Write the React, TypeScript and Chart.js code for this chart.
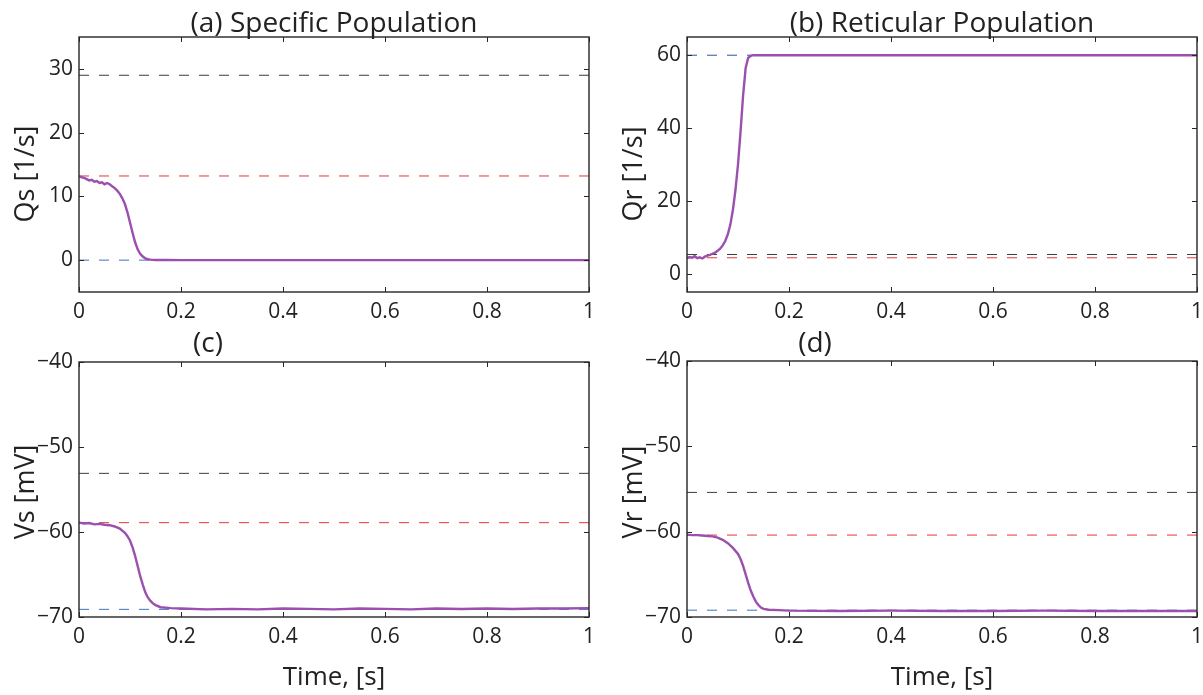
import React, { useEffect, useRef } from "react";
import { Chart, registerables } from "chart.js";

Chart.register(...registerables);

// ---------- data ----------
const X_TICKS = [0, 0.2, 0.4, 0.6, 0.8, 1];

const QS_TICKS = [0, 10, 20, 30];
const QR_TICKS = [0, 20, 40, 60];
const VS_TICKS = [-70, -60, -50, -40];
const VR_TICKS = [-70, -60, -50, -40];

const QS_T = [0, 0.005, 0.01, 0.015, 0.02, 0.025, 0.03, 0.035, 0.04, 0.045, 0.05, 0.055, 0.06, 0.065, 0.07, 0.075, 0.08, 0.085, 0.09, 0.095, 0.1, 0.105, 0.11, 0.115, 0.12, 0.125, 0.13, 0.135, 0.14, 0.15, 0.17, 0.2, 0.3, 0.4, 0.5, 0.6, 0.7, 0.8, 0.9, 1.0];
const QS_V = [13.2, 13.0, 12.9, 12.7, 12.5, 12.6, 12.3, 12.4, 12.1, 12.2, 11.9, 12.1, 11.9, 11.6, 11.3, 10.9, 10.4, 9.7, 8.8, 7.5, 5.9, 4.3, 2.8, 1.7, 1.0, 0.55, 0.28, 0.14, 0.07, 0.03, 0.01, 0.0, 0.0, 0.0, 0.0, 0.0, 0.0, 0.0, 0.0, 0.0];

const QR_T = [0, 0.005, 0.01, 0.015, 0.02, 0.025, 0.03, 0.035, 0.04, 0.045, 0.05, 0.055, 0.06, 0.065, 0.07, 0.075, 0.08, 0.085, 0.09, 0.095, 0.1, 0.105, 0.11, 0.115, 0.12, 0.125, 0.13, 0.15, 0.2, 0.3, 0.4, 0.5, 0.6, 0.7, 0.8, 0.9, 1.0];
const QR_V = [4.3, 4.6, 4.4, 4.9, 4.3, 4.5, 4.2, 4.7, 5.0, 5.2, 5.5, 5.8, 6.3, 6.9, 7.8, 9.0, 10.8, 13.5, 17.5, 23.0, 30.0, 39.0, 49.0, 56.5, 59.3, 59.8, 60.0, 60.0, 60.0, 60.0, 60.0, 60.0, 60.0, 60.0, 60.0, 60.0, 60.0];

const VS_T = [0, 0.01, 0.02, 0.03, 0.04, 0.05, 0.06, 0.07, 0.08, 0.09, 0.095, 0.1, 0.105, 0.11, 0.115, 0.12, 0.125, 0.13, 0.135, 0.14, 0.145, 0.15, 0.16, 0.18, 0.2, 0.25, 0.3, 0.35, 0.4, 0.45, 0.5, 0.55, 0.6, 0.65, 0.7, 0.75, 0.8, 0.85, 0.9, 0.95, 1.0];
const VS_V = [-58.9, -59.0, -58.95, -59.1, -59.05, -59.15, -59.2, -59.35, -59.6, -60.1, -60.5, -61.0, -61.8, -62.8, -64.0, -65.2, -66.2, -67.1, -67.7, -68.1, -68.4, -68.6, -68.85, -68.95, -69.0, -69.1, -69.05, -69.1, -69.0, -69.05, -69.1, -69.0, -69.05, -69.1, -69.0, -69.05, -69.0, -69.05, -69.0, -69.0, -68.95];

const VR_T = [0, 0.01, 0.02, 0.03, 0.04, 0.05, 0.06, 0.07, 0.08, 0.09, 0.1, 0.105, 0.11, 0.115, 0.12, 0.125, 0.13, 0.135, 0.14, 0.145, 0.15, 0.16, 0.18, 0.2, 0.3, 0.4, 0.5, 0.6, 0.7, 0.8, 0.9, 1.0];
const VR_V = [-60.35, -60.4, -60.4, -60.45, -60.5, -60.55, -60.7, -60.95, -61.35, -61.9, -62.6, -63.2, -64.0, -65.0, -66.0, -66.9, -67.6, -68.2, -68.6, -68.9, -69.05, -69.15, -69.2, -69.25, -69.3, -69.25, -69.3, -69.3, -69.25, -69.3, -69.3, -69.3];

// reference (dashed) levels
const QS_REF = [29.0, 13.2, 0];
const QR_REF = [60, 5.3, 4.4];
const VS_REF = [-53.1, -58.9, -69.1];
const VR_REF = [-55.4, -60.4, -69.2];

// ---------- styles ----------
const W = 1203;
const H = 695;
const Y_AXIS_W = 60;
const X_AXIS_H = 40;
const FONT = "'Open Sans', 'Noto Sans', 'DejaVu Sans', sans-serif";
const TEXT = "#222222";
const AXIS = "#262626";
const PURPLE = "#9b4fae";
const BLACK_D = "#3c3c3c";
const RED_D = "#e5383a";
const BLUE_D = "#3e72c2";
const BLUE_DARK = "#2458a6";

type Panel = {
  plot: { l: number; r: number; t: number; b: number };
  yMin: number;
  yMax: number;
  yTicks: number[];
  t: number[];
  v: number[];
  refs: number[];
  refColors: string[];
  title: string;
  titleX: number;
  titleY: number;
  yLabel: string;
  yLabelX: number;
  yLabelY: number;
  xLabel: string | null;
};

const PANELS: Panel[] = [
  {
    plot: { l: 79, r: 589, t: 37, b: 292 },
    yMin: -5, yMax: 35, yTicks: QS_TICKS, t: QS_T, v: QS_V,
    refs: QS_REF, refColors: [BLACK_D, RED_D, BLUE_D],
    title: "(a) Specific Population", titleX: 334, titleY: 32,
    yLabel: "Qs [1/s]", yLabelX: 34, yLabelY: 174, xLabel: null,
  },
  {
    plot: { l: 687, r: 1197, t: 37, b: 292 },
    yMin: -5, yMax: 65, yTicks: QR_TICKS, t: QR_T, v: QR_V,
    refs: QR_REF, refColors: [BLUE_DARK, BLACK_D, RED_D],
    title: "(b) Reticular Population", titleX: 942, titleY: 32,
    yLabel: "Qr [1/s]", yLabelX: 642, yLabelY: 174, xLabel: null,
  },
  {
    plot: { l: 79, r: 589, t: 362, b: 617 },
    yMin: -70, yMax: -40, yTicks: VS_TICKS, t: VS_T, v: VS_V,
    refs: VS_REF, refColors: [BLACK_D, RED_D, BLUE_D],
    title: "(c)", titleX: 208, titleY: 352,
    yLabel: "Vs [mV]", yLabelX: 34, yLabelY: 492, xLabel: "Time, [s]",
  },
  {
    plot: { l: 687, r: 1197, t: 361, b: 617 },
    yMin: -70, yMax: -40, yTicks: VR_TICKS, t: VR_T, v: VR_V,
    refs: VR_REF, refColors: [BLACK_D, RED_D, BLUE_D],
    title: "(d)", titleX: 815, titleY: 352,
    yLabel: "Vr [mV]", yLabelX: 642, yLabelY: 492, xLabel: "Time, [s]",
  },
];

const fmt = (v: number) => String(v).replace("-", "\u2212");

function makeConfig(p: Panel): any {
  const series = p.t.map((x, i) => ({ x, y: p.v[i] }));
  const refSets = p.refs.map((val, i) => ({
    data: [{ x: 0, y: val }, { x: 1, y: val }],
    borderColor: p.refColors[i],
    borderWidth: 1,
    borderDash: [10, 10],
    pointRadius: 0,
    fill: false,
  }));

  const decor = {
    id: "decor",
    afterDraw(chart: any) {
      const ctx = chart.ctx;
      const { left, right, top, bottom } = chart.chartArea;
      const xs = chart.scales.x;
      const ys = chart.scales.y;
      ctx.save();
      ctx.strokeStyle = AXIS;
      ctx.lineWidth = 1.4;
      ctx.strokeRect(left, top, right - left, bottom - top);
      ctx.lineWidth = 1;
      const TL = 5;
      ctx.beginPath();
      X_TICKS.forEach((v) => {
        const x = Math.round(xs.getPixelForValue(v)) + 0.5;
        ctx.moveTo(x, bottom);
        ctx.lineTo(x, bottom - TL);
        ctx.moveTo(x, top);
        ctx.lineTo(x, top + TL);
      });
      p.yTicks.forEach((v) => {
        const y = Math.round(ys.getPixelForValue(v)) + 0.5;
        ctx.moveTo(left, y);
        ctx.lineTo(left + TL, y);
        ctx.moveTo(right, y);
        ctx.lineTo(right - TL, y);
      });
      ctx.stroke();

      ctx.fillStyle = TEXT;
      ctx.textBaseline = "alphabetic";
      ctx.textAlign = "center";
      ctx.font = `28px ${FONT}`;
      ctx.fillText(p.title, p.titleX, p.titleY);
      if (p.xLabel) {
        ctx.font = `26px ${FONT}`;
        ctx.fillText(p.xLabel, (left + right) / 2, 685);
      }
      ctx.save();
      ctx.translate(p.yLabelX, p.yLabelY);
      ctx.rotate(-Math.PI / 2);
      ctx.font = `27px ${FONT}`;
      ctx.fillText(p.yLabel, 0, 0);
      ctx.restore();
      ctx.restore();
    },
  };

  return {
    type: "line",
    data: {
      datasets: [
        {
          data: series,
          borderColor: PURPLE,
          borderWidth: 2.4,
          pointRadius: 0,
          tension: 0,
          fill: false,
        },
        ...refSets,
      ],
    },
    options: {
      responsive: false,
      animation: false,
      devicePixelRatio: 1,
      events: [],
      layout: {
        padding: {
          left: p.plot.l - Y_AXIS_W,
          right: W - p.plot.r,
          top: p.plot.t,
          bottom: H - p.plot.b - X_AXIS_H,
        },
      },
      plugins: {
        legend: { display: false },
        tooltip: { enabled: false },
        title: { display: false },
      },
      scales: {
        x: {
          type: "linear",
          min: 0,
          max: 1,
          afterBuildTicks: (s: any) => {
            s.ticks = X_TICKS.map((value) => ({ value }));
          },
          afterFit: (s: any) => {
            s.height = X_AXIS_H;
            s.paddingLeft = 0;
            s.paddingRight = 0;
          },
          grid: { display: false, drawTicks: false },
          border: { display: false },
          ticks: {
            padding: 7,
            color: TEXT,
            font: { family: FONT, size: 21 },
            maxRotation: 0,
            autoSkip: false,
            callback: (v: any) => fmt(Number(v)),
          },
        },
        y: {
          type: "linear",
          min: p.yMin,
          max: p.yMax,
          afterBuildTicks: (s: any) => {
            s.ticks = p.yTicks.map((value) => ({ value }));
          },
          afterFit: (s: any) => {
            s.width = Y_AXIS_W;
            s.paddingTop = 0;
            s.paddingBottom = 0;
          },
          grid: { display: false, drawTicks: false },
          border: { display: false },
          ticks: {
            padding: 6,
            color: TEXT,
            font: { family: FONT, size: 21 },
            autoSkip: false,
            callback: (v: any) => fmt(Number(v)),
          },
        },
      },
    },
    plugins: [decor],
  };
}

function PanelChart({ panel }: { panel: Panel }) {
  const ref = useRef<HTMLCanvasElement | null>(null);
  useEffect(() => {
    if (!ref.current) return;
    const chart = new Chart(ref.current, makeConfig(panel));
    let alive = true;
    const fonts: any = (document as any).fonts;
    if (fonts && fonts.load) {
      Promise.all([fonts.load(`21px 'Open Sans'`), fonts.load(`28px 'Open Sans'`)])
        .then(() => {
          if (alive) chart.update();
        })
        .catch(() => {});
    }
    return () => {
      alive = false;
      chart.destroy();
    };
  }, [panel]);
  return (
    <canvas
      ref={ref}
      width={W}
      height={H}
      style={{ position: "absolute", left: 0, top: 0, width: W, height: H }}
    />
  );
}

export default function App() {
  return (
    <div
      style={{
        position: "fixed",
        left: 0,
        top: 0,
        width: W,
        height: H,
        background: "#ffffff",
        overflow: "hidden",
      }}
    >
      {PANELS.map((p, i) => (
        <PanelChart key={i} panel={p} />
      ))}
    </div>
  );
}
